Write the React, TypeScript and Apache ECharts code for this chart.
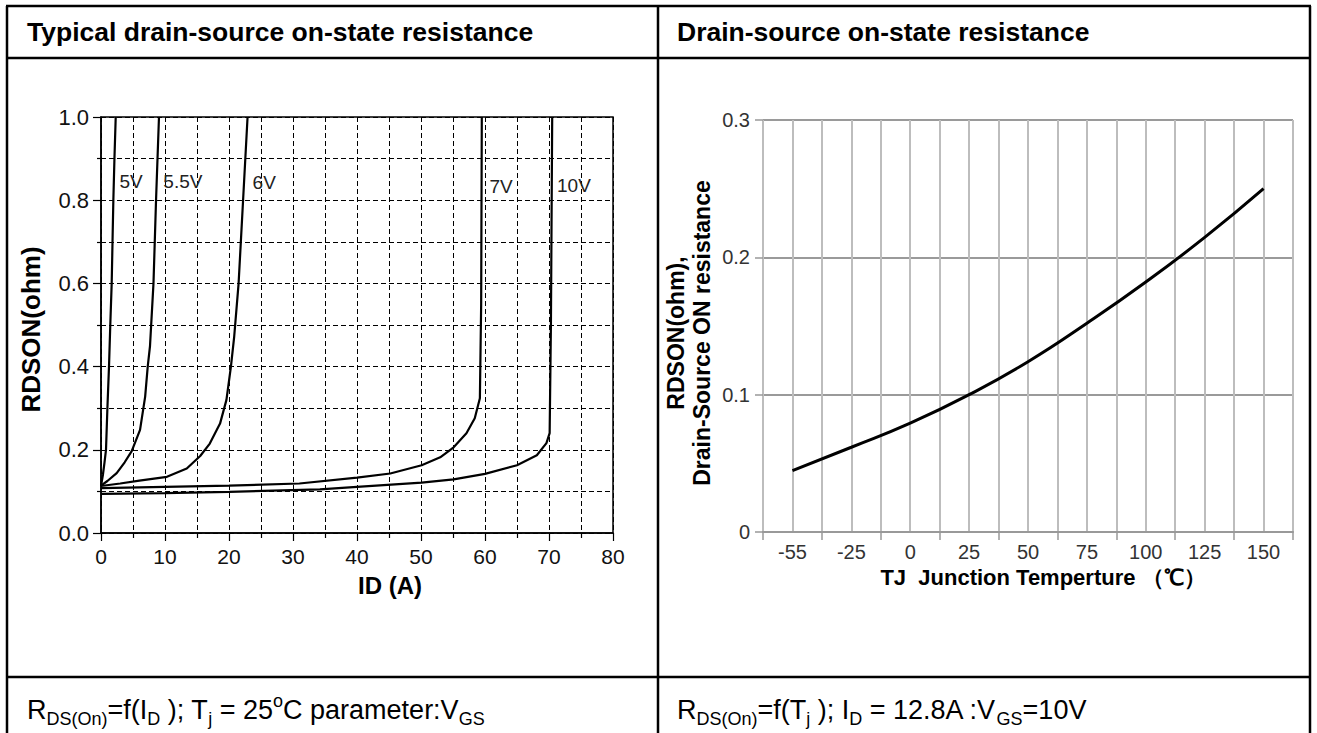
import React, { useEffect, useRef } from 'react';
import * as echarts from 'echarts';

// ---------- Left chart data: RDS(on) vs ID for several VGS ----------
const idAxisTicks = [0, 10, 20, 30, 40, 50, 60, 70, 80];
const curve5V: [number, number][] = [
  [0, 0.113], [0.3, 0.14], [0.55, 0.17], [0.78, 0.2], [1.0, 0.3], [1.25, 0.4],
  [1.45, 0.5], [1.67, 0.6], [1.8, 0.7], [1.93, 0.8], [2.1, 0.9], [2.3, 1.0],
];
const curve5p5V: [number, number][] = [
  [0, 0.114], [1, 0.125], [2.45, 0.144], [3.7, 0.17], [4.8, 0.197], [6.1, 0.248],
  [6.9, 0.328], [7.3, 0.4], [7.66, 0.45], [8.2, 0.6], [8.6, 0.8], [9.06, 1.0],
];
const curve6V: [number, number][] = [
  [0, 0.113], [3, 0.119], [6, 0.126], [10.3, 0.135], [13.4, 0.155], [15.5, 0.185],
  [17, 0.215], [18.6, 0.263], [19.6, 0.32], [20.3, 0.4], [20.8, 0.47], [21.5, 0.6],
  [22.2, 0.8], [22.9, 1.0],
];
const curve7V: [number, number][] = [
  [0, 0.108], [10, 0.111], [20, 0.114], [31, 0.119], [40, 0.133], [45.2, 0.143],
  [50.1, 0.163], [53, 0.182], [55.1, 0.206], [57.1, 0.24], [58.4, 0.276], [59.2, 0.324],
  [59.4, 0.55], [59.5, 1.0],
];
const curve10V: [number, number][] = [
  [0, 0.094], [10, 0.096], [20, 0.099], [34.2, 0.105], [40, 0.111], [50.1, 0.121],
  [55.1, 0.129], [60, 0.142], [65, 0.163], [68.1, 0.187], [69.6, 0.216], [70.1, 0.24],
  [70.3, 0.5], [70.5, 1.0],
];
const vgsNames = ['5V', '5.5V', '6V', '7V', '10V'];
const vgsCurves = [curve5V, curve5p5V, curve6V, curve7V, curve10V];
const vgsLabelAt: [number, number][] = [
  [4.7, 0.845], [12.8, 0.845], [25.5, 0.842], [62.5, 0.834], [73.9, 0.836],
];

// ---------- Right chart data: RDS(on) vs junction temperature ----------
const tempCategories = ['-55', '-25', '0', '25', '50', '75', '100', '125', '150'];
const rdsonVsTemp = [0.0447, 0.0617, 0.0792, 0.1, 0.124, 0.152, 0.182, 0.2145, 0.25];

const FONT = '"Liberation Sans", Arial, sans-serif';

export default function App() {
  const ref = useRef<HTMLDivElement>(null);

  useEffect(() => {
    if (!ref.current) return;
    const chart = echarts.init(ref.current, undefined, { renderer: 'svg' });

    const dashed = { color: '#000', width: 1, type: [5, 3] as number[] };

    const leftSeries = vgsCurves.map((data, i) => ({
      type: 'line',
      name: vgsNames[i],
      xAxisIndex: 0,
      yAxisIndex: 0,
      data,
      symbol: 'none',
      clip: true,
      lineStyle: { color: '#000', width: 2.2 },
      markPoint: {
        symbol: 'circle',
        symbolSize: 1,
        itemStyle: { color: 'rgba(0,0,0,0)' },
        label: {
          show: true,
          position: 'inside',
          formatter: '{b}',
          color: '#222',
          fontSize: 19,
          fontFamily: FONT,
        },
        data: [{ name: vgsNames[i], coord: vgsLabelAt[i] }],
      },
    }));

    const line = (x1: number, y1: number, x2: number, y2: number) => ({
      type: 'line',
      z: 100,
      shape: { x1, y1, x2, y2 },
      style: { stroke: '#000', lineWidth: 2.5 },
    });

    const capRich = {
      n: { fontSize: 27, fontFamily: FONT, color: '#000', lineHeight: 36 },
      s: { fontSize: 18, fontFamily: FONT, color: '#000', lineHeight: 18, verticalAlign: 'bottom' },
      p: { fontSize: 18, fontFamily: FONT, color: '#000', lineHeight: 24, verticalAlign: 'top' },
    };

    chart.setOption({
      animation: false,
      textStyle: { fontFamily: FONT },
      graphic: [
        line(7, 6, 7, 733),
        line(1310, 6, 1310, 733),
        line(6, 6, 1311, 6),
        line(6, 58, 1311, 58),
        line(6, 677, 1311, 677),
        line(658, 6, 658, 733),
        {
          type: 'text',
          x: 27,
          y: 32,
          style: {
            text: 'Typical drain-source on-state resistance',
            fontSize: 26.5,
            fontWeight: 'bold',
            fontFamily: FONT,
            fill: '#000',
            verticalAlign: 'middle',
          },
        },
        {
          type: 'text',
          x: 677,
          y: 32,
          style: {
            text: 'Drain-source on-state resistance',
            fontSize: 26.5,
            fontWeight: 'bold',
            fontFamily: FONT,
            fill: '#000',
            verticalAlign: 'middle',
          },
        },
        {
          type: 'text',
          x: 27,
          y: 710,
          style: {
            text: '{n|R}{s|DS(On)}{n|=f(I}{s|D}{n| ); T}{s|j}{n| = 25}{p|o}{n|C parameter:V}{s|GS}',
            rich: capRich,
            verticalAlign: 'middle',
          },
        },
        {
          type: 'text',
          x: 677,
          y: 710,
          style: {
            text: '{n|R}{s|DS(On)}{n|=f(T}{s|j}{n| ); I}{s|D}{n| = 12.8A :V}{s|GS}{n|=10V}',
            rich: capRich,
            verticalAlign: 'middle',
          },
        },
      ],
      grid: [
        {
          left: 101, top: 117, width: 512, height: 416,
          show: true, borderColor: '#000', borderWidth: 1.5, backgroundColor: 'transparent',
        },
        { left: 763, top: 120, width: 530, height: 412 },
      ],
      xAxis: [
        {
          gridIndex: 0,
          type: 'value',
          min: idAxisTicks[0],
          max: idAxisTicks[idAxisTicks.length - 1],
          interval: 10,
          axisLine: { show: true, lineStyle: { color: '#000', width: 1.5 } },
          axisTick: { show: true, length: 8, lineStyle: { color: '#000', width: 1.2 } },
          minorTick: { show: true, splitNumber: 2, length: 5, lineStyle: { color: '#000', width: 1.2 } },
          splitLine: { show: true, lineStyle: dashed },
          minorSplitLine: { show: true, lineStyle: dashed },
          axisLabel: { fontSize: 21, color: '#111', margin: 13, fontFamily: FONT },
          name: 'ID (A)',
          nameLocation: 'middle',
          nameGap: 40,
          nameTextStyle: {
            fontSize: 24, fontWeight: 'bold', color: '#000', fontFamily: FONT,
            padding: [0, 0, 0, 66],
          },
        },
        {
          gridIndex: 1,
          type: 'category',
          data: tempCategories,
          boundaryGap: true,
          axisLine: { show: true, lineStyle: { color: '#999', width: 2 } },
          axisTick: { show: true, length: 8, lineStyle: { color: '#999', width: 1.5 } },
          splitLine: { show: false },
          axisLabel: { fontSize: 20, color: '#333', margin: 10, fontFamily: FONT },
          name: 'TJ  Junction Temperture （℃）',
          nameLocation: 'middle',
          nameGap: 33,
          nameTextStyle: {
            fontSize: 22, fontWeight: 'bold', color: '#000', fontFamily: FONT,
            padding: [0, 0, 0, 30],
          },
        },
        {
          gridIndex: 1,
          type: 'value',
          position: 'bottom',
          min: 0,
          max: 18,
          interval: 1,
          axisLine: { show: false },
          axisTick: { show: false },
          axisLabel: { show: false },
          splitLine: { show: true, lineStyle: { color: '#bdbdbd', width: 2 } },
        },
      ],
      yAxis: [
        {
          gridIndex: 0,
          type: 'value',
          min: 0,
          max: 1,
          interval: 0.2,
          axisLine: { show: true, lineStyle: { color: '#000', width: 1.5 } },
          axisTick: { show: true, length: 8, lineStyle: { color: '#000', width: 1.2 } },
          minorTick: { show: true, splitNumber: 2, length: 4, lineStyle: { color: '#000', width: 1.2 } },
          splitLine: { show: true, lineStyle: dashed },
          minorSplitLine: { show: true, lineStyle: dashed },
          axisLabel: {
            fontSize: 22, color: '#111', margin: 12, fontFamily: FONT,
            formatter: (v: number) => v.toFixed(1),
          },
          name: 'RDSON(ohm)',
          nameLocation: 'middle',
          nameGap: 57,
          nameTextStyle: {
            fontSize: 26, fontWeight: 'bold', color: '#000', fontFamily: FONT,
            padding: [0, 9, 0, 0],
          },
        },
        {
          gridIndex: 1,
          type: 'value',
          min: 0,
          max: 0.3,
          interval: 0.1,
          axisLine: { show: false },
          axisTick: { show: true, length: 8, lineStyle: { color: '#999', width: 1.5 } },
          splitLine: { show: true, lineStyle: { color: '#9a9a9a', width: 2 } },
          axisLabel: {
            fontSize: 20, color: '#333', margin: 13, fontFamily: FONT,
            formatter: (v: number) => (v === 0 ? '0' : v.toFixed(1)),
          },
          name: 'RDSON(ohm),\nDrain-Source ON resistance',
          nameLocation: 'middle',
          nameGap: 48,
          nameTextStyle: {
            fontSize: 23, fontWeight: 'bold', color: '#000', lineHeight: 26, fontFamily: FONT,
            padding: [0, 14, 0, 0],
          },
        },
      ],
      series: [
        ...leftSeries,
        {
          type: 'line',
          name: 'RDSON vs TJ',
          xAxisIndex: 1,
          yAxisIndex: 1,
          data: rdsonVsTemp,
          smooth: true,
          symbol: 'none',
          z: 5,
          lineStyle: { color: '#000', width: 3 },
        },
      ],
    });

    return () => chart.dispose();
  }, []);

  return (
    <div
      ref={ref}
      style={{ position: 'absolute', left: 0, top: 0, width: 1317, height: 733, background: '#fff' }}
    />
  );
}
